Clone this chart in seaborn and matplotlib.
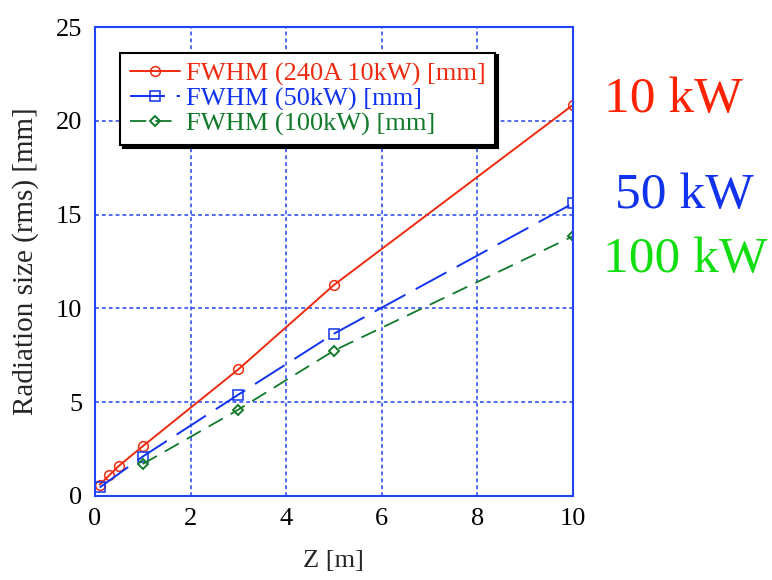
import matplotlib
matplotlib.use("Agg")
import matplotlib.pyplot as plt
import seaborn as sns

# ─── DATA ────────────────────────────────────────────────────────────────────
z_10kw = [0.1, 0.3, 0.5, 1, 3, 5, 10]
fwhm_10kw = [0.6, 1.1, 1.6, 2.65, 6.75, 11.25, 20.85]

z_50kw = [0.1, 1, 3, 5, 10]
fwhm_50kw = [0.45, 2.1, 5.4, 8.65, 15.6]

z_100kw = [1, 3, 5, 10]
fwhm_100kw = [1.7, 4.6, 7.75, 13.85]

labels = ["FWHM (240A 10kW) [mm]", "FWHM (50kW) [mm]", "FWHM (100kW) [mm]"]
side_labels = ["10 kW", "50 kW", "100 kW"]

RED, BLUE, GREEN = "#ee2a10", "#1133ee", "#117a2a"
SIDE_COLORS = ["#ff2200", "#1133ee", "#11dd11"]
AXIS_BLUE = "#2244ee"

sns.set_theme(style="white")
plt.rcParams["font.family"] = ["Liberation Serif", "DejaVu Serif"]

fig = plt.figure(figsize=(7.72, 5.80), dpi=100)
ax = fig.add_axes([0.123, 0.145, 0.619, 0.808])

sns.lineplot(x=z_10kw, y=fwhm_10kw, ax=ax, color=RED, marker="o", markersize=7,
             markerfacecolor="none", markeredgecolor=RED, markeredgewidth=1.1,
             linewidth=1.4, label=labels[0])
sns.lineplot(x=z_50kw, y=fwhm_50kw, ax=ax, color=BLUE, marker="s", markersize=7,
             markerfacecolor="none", markeredgecolor=BLUE, markeredgewidth=1.1,
             linewidth=1.4, linestyle=(0, (18, 6)), label=labels[1])
sns.lineplot(x=z_100kw, y=fwhm_100kw, ax=ax, color=GREEN, marker="D", markersize=5.5,
             markerfacecolor="none", markeredgecolor=GREEN, markeredgewidth=1.4,
             linewidth=1.3, linestyle=(0, (9, 5)), label=labels[2])

ax.set_xlim(0, 10)
ax.set_ylim(0, 25)
ax.set_xticks(range(0, 11, 2))
ax.set_yticks(range(0, 26, 5))
ax.grid(True, color=AXIS_BLUE, linestyle=(0, (2.5, 2)), linewidth=1.1)
for sp in ax.spines.values():
    sp.set_color(AXIS_BLUE)
    sp.set_linewidth(1.5)
ax.tick_params(direction="in", length=5, width=1.2, color=AXIS_BLUE,
               labelsize=19, labelcolor="black", pad=9)
ax.set_xlabel("Z [m]", fontsize=19, labelpad=14)
ax.set_ylabel("Radiation size (rms) [mm]", fontsize=21, labelpad=12)

leg = ax.legend(loc="upper left", bbox_to_anchor=(0.053, 0.946), fontsize=19,
                frameon=True, fancybox=False, shadow={"color": "black", "alpha": 1},
                edgecolor="black", framealpha=1, labelcolor="linecolor",
                borderpad=0.35, labelspacing=0.05, handlelength=1.9,
                handletextpad=0.25, borderaxespad=0)
leg.get_frame().set_linewidth(1.5)

ax_pos = [(604, 112), (615, 208), (603, 272)]
for (px, py), txt, col in zip(ax_pos, side_labels, SIDE_COLORS):
    fig.text(px / 772, 1 - py / 580, txt, color=col, fontsize=37,
             ha="left", va="baseline")

fig.savefig("out.png", dpi=100)
